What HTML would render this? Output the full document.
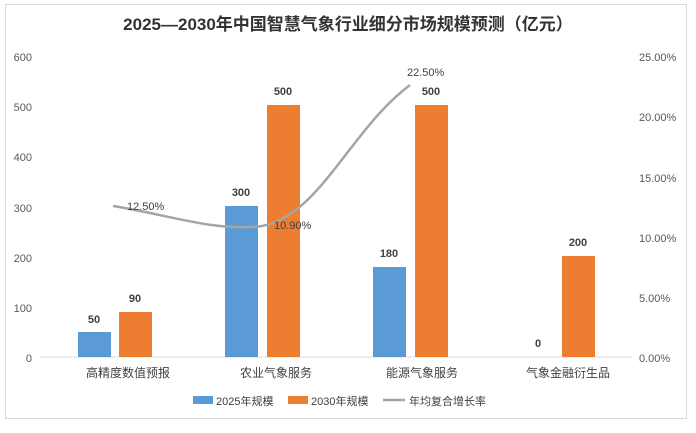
<!DOCTYPE html>
<html><head><meta charset="utf-8"><style>
body{margin:0;background:#fff}
svg text{font-family:"Liberation Sans","Noto Sans CJK SC",sans-serif}
</style></head><body>
<svg width="696" height="428" xmlns="http://www.w3.org/2000/svg">
<rect x="5.5" y="4.5" width="681" height="414" fill="#fff" stroke="#d9d9d9"/>
<text x="348" y="30" font-size="17" font-weight="bold" text-anchor="middle" fill="#333">2025—2030年中国智慧气象行业细分市场规模预测（亿元）</text>
<g font-size="11" fill="#595959" text-anchor="end">
<text x="32" y="61">600</text><text x="32" y="111">500</text><text x="32" y="161">400</text>
<text x="32" y="212">300</text><text x="32" y="262">200</text><text x="32" y="312">100</text><text x="32" y="362">0</text>
</g>
<g font-size="11" fill="#595959" text-anchor="start">
<text x="639" y="61">25.00%</text><text x="639" y="121">20.00%</text><text x="639" y="182">15.00%</text>
<text x="639" y="242">10.00%</text><text x="639" y="302">5.00%</text><text x="639" y="362">0.00%</text>
</g>
<line x1="40" y1="357" x2="632" y2="357" stroke="#d9d9d9"/>
<g fill="#5b9bd5">
<rect x="78" y="332" width="33" height="25"/>
<rect x="225" y="206" width="33" height="151"/>
<rect x="373" y="267" width="33" height="90"/>
</g>
<g fill="#ed7d31">
<rect x="119" y="312" width="33" height="45"/>
<rect x="267" y="105" width="33" height="252"/>
<rect x="415" y="105" width="33" height="252"/>
<rect x="562" y="256" width="33" height="101"/>
</g>
<path d="M113,206 C170,215 215,232 262,226 C320,215 350,130 410,85" fill="none" stroke="#a5a5a5" stroke-width="2.5"/>
<g font-size="11" font-weight="bold" fill="#404040" text-anchor="middle">
<text x="94" y="323">50</text><text x="135" y="302">90</text>
<text x="241" y="196">300</text><text x="283" y="95">500</text>
<text x="389" y="257">180</text><text x="431" y="95">500</text>
<text x="538" y="347">0</text><text x="578" y="246">200</text>
</g>
<g font-size="11" fill="#404040">
<text x="127" y="210">12.50%</text><text x="274" y="229">10.90%</text><text x="407" y="76">22.50%</text>
</g>
<g font-size="12" fill="#404040" text-anchor="middle">
<text x="128" y="377">高精度数值预报</text><text x="276" y="377">农业气象服务</text>
<text x="422" y="377">能源气象服务</text><text x="568" y="377">气象金融衍生品</text>
</g>
<rect x="193" y="396" width="20" height="8" fill="#5b9bd5"/>
<text x="216" y="405" font-size="11" fill="#404040">2025年规模</text>
<rect x="288" y="396" width="20" height="8" fill="#ed7d31"/>
<text x="311" y="405" font-size="11" fill="#404040">2030年规模</text>
<line x1="383" y1="400" x2="405" y2="400" stroke="#a5a5a5" stroke-width="2.5"/>
<text x="409" y="405" font-size="11" fill="#404040">年均复合增长率</text>
</svg>
</body></html>
